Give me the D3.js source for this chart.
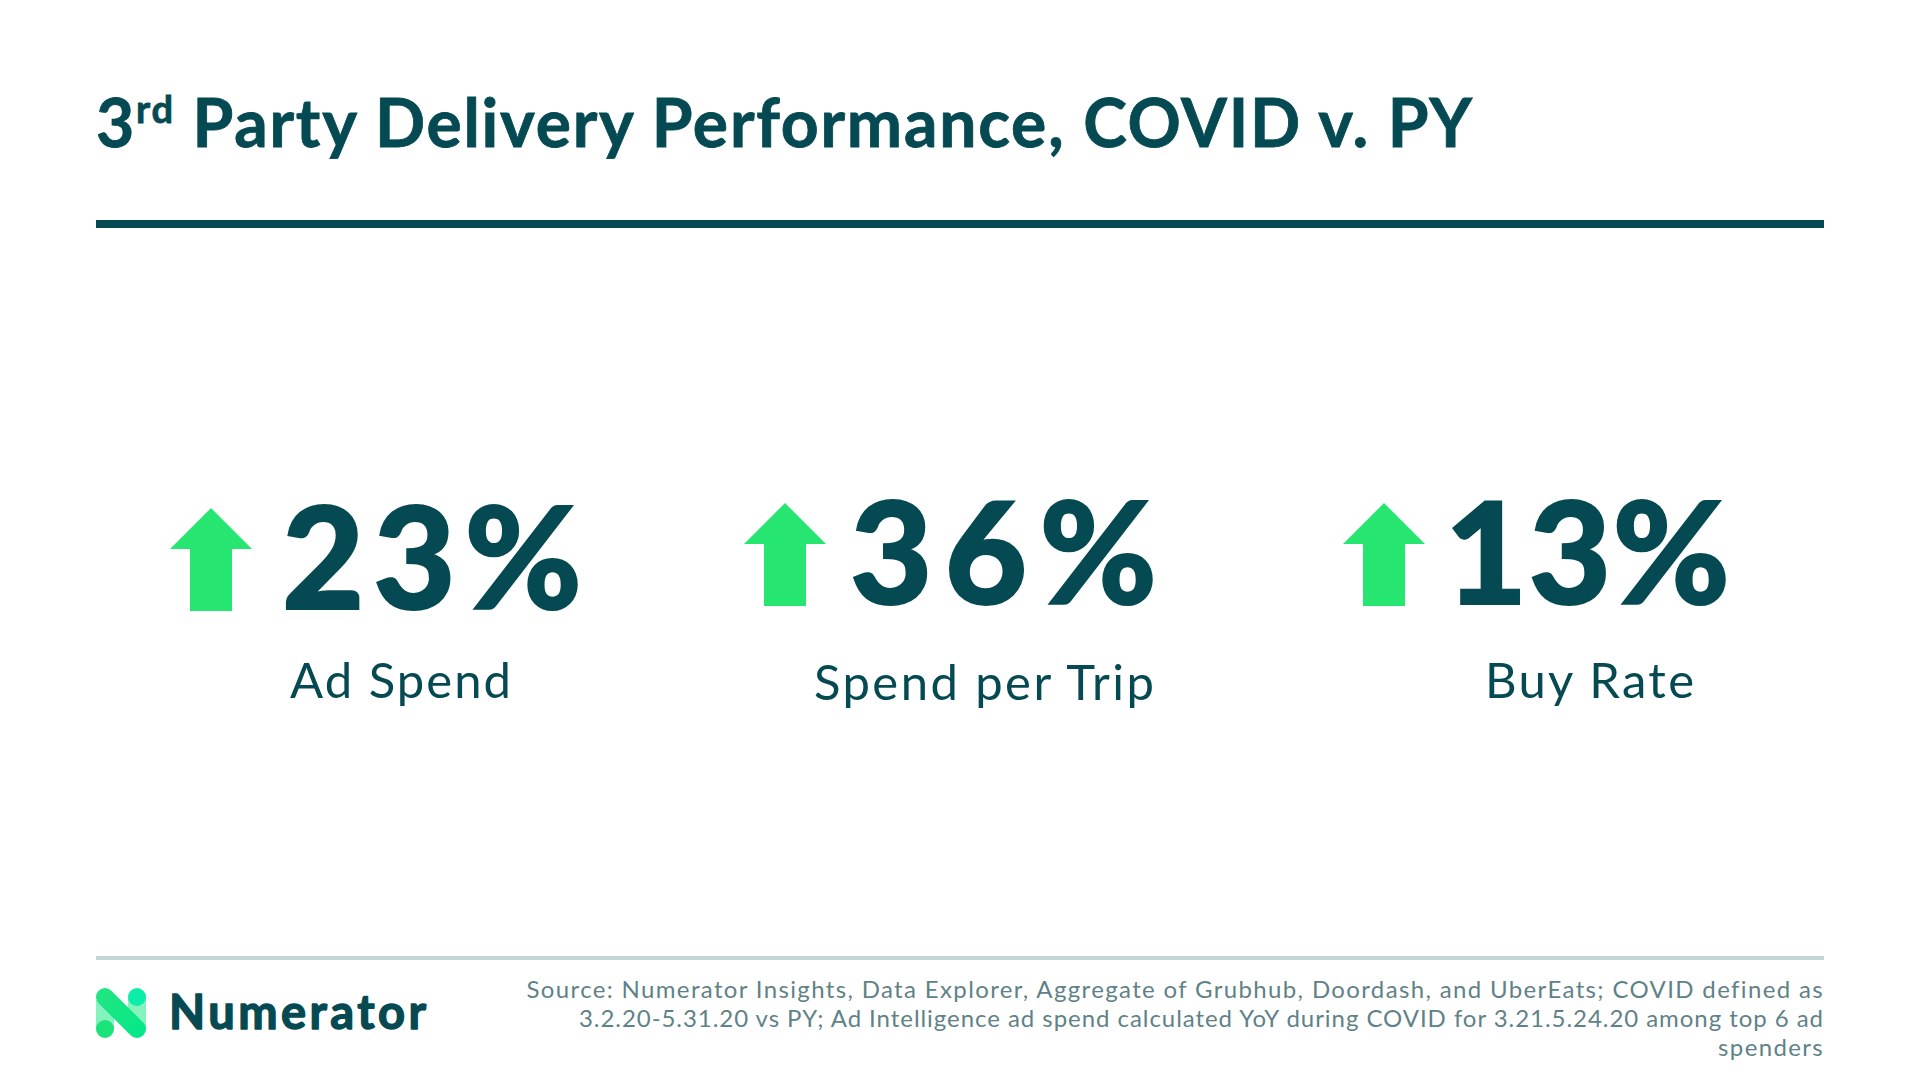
<!DOCTYPE html>
<html>
<head>
<meta charset="utf-8">
<script src="https://cdn.jsdelivr.net/npm/d3@7"></script>
<style>
  html, body { margin: 0; background: #fff; }
  svg { display: block; font-family: Lato, sans-serif; }
</style>
</head>
<body>
<div id="chart"></div>
<script>
const metrics = ['Ad Spend', 'Spend per Trip', 'Buy Rate'];
const changes = [23, 36, 13];
const sourceLines = [
  'Source: Numerator Insights, Data Explorer, Aggregate of Grubhub, Doordash, and UberEats; COVID defined as',
  '3.2.20-5.31.20 vs PY; Ad Intelligence ad spend calculated YoY during COVID for 3.21.5.24.20 among top 6 ad',
  'spenders'
];

const width = 1920;
const height = 1080;
const dark = '#054a52';
const green = '#26e570';

// where each block sits on the slide
const arrowX = [211, 785, 1384];
const arrowTop = [508, 503, 503];
const valueX = [282, 850, 1445];
const valueLen = [300, 307, 285];
const valueBase = [609, 604, 604];
const labelX = [290, 814, 1485];
const labelLen = [221, 340, 209];
const labelBase = [698, 700, 698];
const sourceSpacing = [1.35, 0.95, 1.35];

const svg = d3.select('#chart').append('svg')
  .attr('width', width)
  .attr('height', height)
  .attr('viewBox', `0 0 ${width} ${height}`);

// title
const title = svg.append('text')
  .attr('x', 96)
  .attr('y', 147)
  .attr('fill', dark)
  .attr('stroke', dark)
  .attr('stroke-width', 0.8)
  .attr('font-size', 66)
  .attr('font-weight', 700)
  .attr('textLength', 1376);
title.append('tspan').text('3');
title.append('tspan').attr('font-size', 38).attr('dy', -24).text('rd');
title.append('tspan').attr('dy', 24).text(' Party Delivery Performance, COVID v. PY');

svg.append('rect').attr('x', 96).attr('y', 220).attr('width', 1728).attr('height', 8).attr('fill', dark);
svg.append('rect').attr('x', 96).attr('y', 956).attr('width', 1728).attr('height', 4).attr('fill', '#c5d6d9');

function arrowPath(cx, top) {
  const p = d3.path();
  p.moveTo(cx, top);
  p.lineTo(cx + 41, top + 41);
  p.lineTo(cx + 21, top + 41);
  p.lineTo(cx + 21, top + 103);
  p.lineTo(cx - 21, top + 103);
  p.lineTo(cx - 21, top + 41);
  p.lineTo(cx - 41, top + 41);
  p.closePath();
  return p.toString();
}

const blocks = svg.selectAll('g.kpi')
  .data(changes)
  .join('g')
  .attr('class', 'kpi');

blocks.append('path')
  .attr('d', (d, i) => arrowPath(arrowX[i], arrowTop[i]))
  .attr('fill', green);

blocks.append('text')
  .attr('x', (d, i) => valueX[i])
  .attr('y', (d, i) => valueBase[i])
  .attr('fill', dark)
  .attr('stroke', dark)
  .attr('stroke-width', 2)
  .attr('font-size', 142)
  .attr('font-weight', 900)
  .attr('textLength', (d, i) => valueLen[i])
  .text((d) => d + '%');

blocks.append('text')
  .attr('x', (d, i) => labelX[i])
  .attr('y', (d, i) => labelBase[i])
  .attr('fill', dark)
  .attr('font-size', 49)
  .attr('textLength', (d, i) => labelLen[i])
  .text((d, i) => metrics[i]);

// logo mark
const defs = svg.append('defs');
const grad = defs.append('linearGradient')
  .attr('id', 'logoGrad')
  .attr('gradientUnits', 'userSpaceOnUse')
  .attr('x1', 105).attr('y1', 997).attr('x2', 137).attr('y2', 1029);
grad.append('stop').attr('offset', 0).attr('stop-color', '#1fe582');
grad.append('stop').attr('offset', 1).attr('stop-color', '#06e887');

const logo = svg.append('g');
logo.append('rect').attr('x', 96).attr('y', 1000).attr('width', 18).attr('height', 29).attr('fill', '#84f3bd');
logo.append('rect').attr('x', 128).attr('y', 997).attr('width', 18).attr('height', 32).attr('fill', '#84f3bd');
logo.append('line')
  .attr('x1', 105).attr('y1', 997).attr('x2', 137).attr('y2', 1029)
  .attr('stroke', 'url(#logoGrad)')
  .attr('stroke-width', 18)
  .attr('stroke-linecap', 'round');
logo.append('circle').attr('cx', 137).attr('cy', 997).attr('r', 9).attr('fill', '#0aeeaa');
logo.append('circle').attr('cx', 105).attr('cy', 1029).attr('r', 9).attr('fill', '#1ce27a');

svg.append('text')
  .attr('x', 169)
  .attr('y', 1029)
  .attr('fill', dark)
  .attr('font-size', 47)
  .attr('font-weight', 700)
  .attr('stroke', dark)
  .attr('stroke-width', 1.4)
  .attr('stroke-linejoin', 'round')
  .attr('textLength', 257)
  .text('Numerator');

// source note, right aligned
svg.selectAll('text.source')
  .data(sourceLines)
  .join('text')
  .attr('class', 'source')
  .attr('x', 1824)
  .attr('y', (d, i) => 998 + i * 29)
  .attr('text-anchor', 'end')
  .attr('fill', '#5f8287')
  .attr('font-size', 24)
  .attr('letter-spacing', (d, i) => sourceSpacing[i])
  .text((d) => d);
</script>
</body>
</html>
